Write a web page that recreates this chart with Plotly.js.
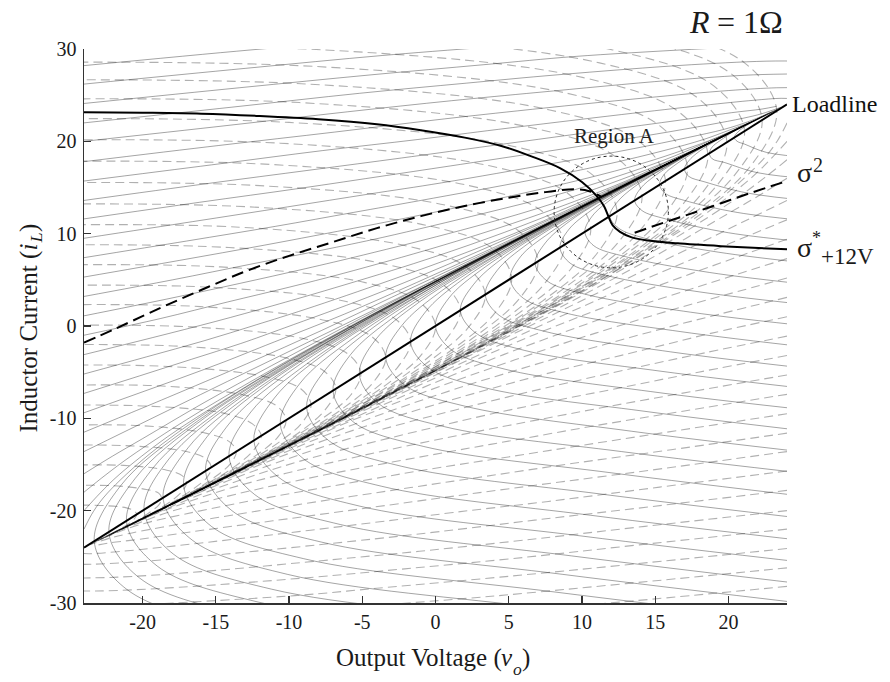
<!DOCTYPE html>
<html>
<head>
<meta charset="utf-8">
<script src="https://cdn.plot.ly/plotly-3.0.1.min.js"></script>
<style>html,body{margin:0;padding:0;background:#fff;}#chart{width:890px;height:682px;}</style>
</head>
<body>
<div id="chart"></div>
<script>
// ---- Data (output voltage v, inductor current i) ----
// Solid grey trajectories entering from the left edge
const solidEdgeV = [
 [-24,-12.6,-2.8],
 [-24,-13,-3.6,4.4],
 [-24,-13.4,-4.4,3.3,9.6,19.1],
 [-24,-13.9,-5.2,2.1,8.3,17.5,23.2,26.4],
 [-24,-14.3,-6,1.1,7,16,21.7,24.9],
 [-24,-14.8,-6.9,-0.1,5.6,14.3,20,23.3,24.9],
 [-24,-15.3,-7.7,-1.2,4.3,12.7,18.3,21.75,23.6,24.4],
 [-24,-15.7,-8.5,-2.3,3,11.1,16.7,20.2,22.3,23.3],
 [-24,-16.1,-9.3,-3.35,1.7,9.6,15.1,18.7,21,22.3,23.6],
 [-24,-16.6,-10.1,-4.5,0.4,8,13.5,17.2,19.7,21.3,22.4,23.3],
 [-24,-17,-10.9,-5.6,-1,6.5,11.8,15.6,18.3,20.2,21.7,22.9],
 [-24,-17.5,-11.7,-6.7,-2.3,4.9,10.2,14.1,17,19.2,21,22.5],
 [-24,-17.95,-12.6,-7.8,-3.6,3.3,8.5,12.5,15.65,18.1,20.2,22.15],
 [-24,-18.4,-13.4,-8.9,-4.9,1.7,6.9,11,14.3,17.1,19.5,21.8],
 [-24,-18.8,-14.2,-10,-6.3,0.1,5.25,9.5,13,16,18.8,21.4],
 [-24,-19.3,-15,-11.1,-7.6,-1.5,3.6,7.9,11.6,15,18.1,21.1],
 [-24,-19.75,-15.8,-12.2,-8.9,-3.1,2,6.4,10.3,13.9,17.4,20.7],
 [-24,-20.2,-16.65,-13.3,-10.3,-4.65,0.3,4.8,9,12.9,16.6,20.3],
 [-24,-20.65,-17.5,-14.45,-11.6,-6.2,-1.3,3.3,7.6,11.8,15.9,20.0],
 [-24,-21.1,-18.3,-12.9,-7.8,-3,1.7,6.3,10.8,15.2,19.6],
 [-24,-14.2,-4.5,5,14.5,21.6],
 [-24,-22.06,-20,-15.8,-11.2,-6.5,-1.6,3.4,8.5,13.7,18.8],
 [-24,-22.5,-20.8,-17,-12.7,-8,-3.05,2.2,7.5,13,18.5],
 [-24,-22.9,-21.6,-18.3,-14.2,-9.6,-4.5,0.9,6.5,12.3,18.1],
 [-24,-23.35,-22.4,-19.55,-15.75,-11.2,-6,-0.4,5.5,11.6,17.8]
];
const solidEdgeI = [
 [28.2,29.9,31.2],
 [26.2,27.9,29.3,30.3],
 [24.1,25.8,27.2,28.3,29.2,30.1],
 [22,23.7,25.2,26.3,27.2,28.3,28.7,28.6],
 [20,21.7,23.2,24.4,25.3,26.6,27.2,27.3],
 [17.8,19.55,21,22.3,23.3,24.7,25.5,25.8,25.8],
 [15.7,17.45,19,20.2,21.3,22.9,23.9,24.45,24.66,24.6],
 [13.6,15.4,16.9,18.2,19.35,21.1,22.3,23.1,23.5,23.8],
 [11.6,13.4,14.9,16.3,17.5,19.4,20.8,21.8,22.5,23,23.7],
 [9.5,11.3,12.9,14.3,15.5,17.6,19.2,20.4,21.3,22.1,22.8,23.4],
 [7.4,9.2,10.8,12.3,13.6,15.8,17.55,19,20.2,21.3,22.2,23.1],
 [5.3,7.1,8.75,10.25,11.6,14,15.95,17.6,19.1,20.4,21.7,22.8],
 [3.2,5,6.7,8.2,9.6,12.2,14.3,16.25,18,19.6,21.1,22.5],
 [1.1,2.9,4.6,6.2,7.7,10.35,12.7,14.9,16.85,18.7,20.5,22.3],
 [-1,0.8,2.6,4.2,5.7,8.55,11.1,13.5,15.7,17.9,19.9,22.0],
 [-3.1,-1.25,0.5,2.2,3.8,6.75,9.5,12.1,14.6,17,19.4,21.7],
 [-5.2,-3.35,-1.6,0.15,1.8,4.95,7.9,10.7,13.5,16.15,18.8,21.4],
 [-7.3,-5.4,-3.6,-1.9,-0.2,3.1,6.3,9.4,12.4,15.3,18.2,21.1],
 [-9.4,-7.5,-5.7,-3.9,-2.1,1.3,4.7,8,11.2,14.5,17.65,20.8],
 [-11.5,-9.6,-7.75,-4.1,-0.5,3.1,6.6,10.1,13.6,17.1,20.5],
 [-13.6,-6,1.5,9,16.5,22.1],
 [-16,-14.1,-12.2,-8.3,-4.3,-0.35,3.7,7.7,11.8,15.8,19.9],
 [-18,-16.1,-14.1,-10.15,-6.1,-1.9,2.35,6.6,10.95,15.3,19.65],
 [-20,-18.1,-16.1,-12,-7.8,-3.4,1.05,5.6,10.1,14.75,19.4],
 [-22,-20.07,-18.1,-13.9,-9.5,-4.95,-0.27,4.5,9.3,14.2,19.1]
];
// Solid grey arcs coming from the bottom / right edge and crossing the loadline
const solidArcV = [
 [26,5.7,-13.9,-21.1,-23.3,-21.5,-16.6,-7.0,4.8,17.5],
 [26,6.1,-13.1,-20.2,-22.3,-20.5,-15.8,-6.3,5.2,17.7],
 [26,6.6,-12.1,-19.0,-21.1,-19.3,-14.7,-5.5,5.7,17.8],
 [26,7.1,-11.2,-17.9,-19.9,-18.2,-13.7,-4.8,6.2,18.0],
 [26,7.6,-10.1,-16.6,-18.6,-16.9,-12.6,-3.9,6.7,18.2],
 [26,8.1,-9.0,-15.3,-17.2,-15.6,-11.4,-3.0,7.3,18.4],
 [26,8.7,-7.8,-13.9,-15.7,-14.15,-10.1,-2.0,7.9,18.6],
 [26,9.3,-6.5,-12.35,-14.1,-12.6,-8.7,-1.0,8.5,18.8],
 [26,10.0,-5.2,-10.7,-12.4,-11.0,-7.3,0.2,9.2,19.0],
 [26,10.6,-3.7,-9.0,-10.6,-9.25,-5.7,1.3,10.0,19.3],
 [26,11.3,-2.3,-7.3,-8.8,-7.5,-4.2,2.5,10.7,19.5],
 [26,12.0,-0.8,-5.6,-7.0,-5.8,-2.6,3.7,11.4,19.75],
 [26,12.7,0.6,-3.9,-5.2,-4.1,-1.1,4.9,12.1,20.0],
 [26,13.4,2.05,-2.1,-3.4,-2.3,0.5,6.05,12.9,20.25],
 [26,14.1,3.4,-0.5,-1.7,-0.7,1.9,7.2,13.6,20.5],
 [26,14.7,4.8,1.1,0,0.9,3.4,8.3,14.3,20.7],
 [26,15.4,6.1,2.7,1.7,2.6,4.8,9.4,15.0,20.9],
 [26,16.05,7.5,4.35,3.4,4.2,6.3,10.5,15.6,21.2],
 [26,16.7,8.9,6.0,5.1,5.8,7.8,11.6,16.3,21.4],
 [26,17.4,10.2,7.6,6.8,7.5,9.2,12.7,17.0,21.6],
 [26,18.0,11.6,9.2,8.5,9.1,10.7,13.85,17.7,21.9],
 [26,18.7,13.0,10.8,10.2,10.7,12.15,15.0,18.4,22.1],
 [26,19.3,14.3,12.5,11.9,12.4,13.6,16.1,19.1,22.3],
 [26,20.0,15.7,14.1,13.6,14.0,15.1,17.2,19.8,22.6],
 [26,20.6,17.0,15.7,15.3,15.6,16.5,18.3,20.5,22.8],
 [26,21.3,18.4,17.3,17.0,17.3,18.0,19.4,21.2,23.0],
 [26,22.0,19.75,18.9,18.7,18.9,19.45,20.5,21.85,23.3],
 [26,22.6,21.1,20.6,20.4,20.55,20.9,21.65,22.5,23.5]
];
const solidArcI = [
 [-40.4,-36.5,-32.5,-28.5,-23.3,-17.3,-10.7,-1.2,8.8,18.9],
 [-39.1,-35.3,-31.3,-27.3,-22.3,-16.5,-10.0,-0.7,9.1,19.0],
 [-37.5,-33.8,-29.9,-26.0,-21.1,-15.4,-9.1,0.0,9.5,19.1],
 [-35.8,-32.2,-28.5,-24.7,-19.9,-14.4,-8.2,0.6,9.9,19.3],
 [-34.1,-30.6,-26.9,-23.2,-18.6,-13.2,-7.3,1.3,10.3,19.4],
 [-32.2,-28.8,-25.2,-21.7,-17.2,-12.0,-6.2,2.0,10.7,19.55],
 [-30.2,-26.9,-23.4,-20.0,-15.7,-10.7,-5.1,2.8,11.2,19.7],
 [-28.1,-24.9,-21.5,-18.25,-14.1,-9.3,-4.0,3.7,11.7,19.9],
 [-25.75,-22.75,-19.5,-16.4,-12.4,-7.8,-2.7,4.6,12.3,20.1],
 [-23.4,-20.5,-17.35,-14.4,-10.6,-6.2,-1.4,5.6,12.9,20.3],
 [-21.0,-18.2,-15.2,-12.4,-8.8,-4.7,-0.1,6.5,13.4,20.5],
 [-18.6,-15.9,-13.05,-10.4,-7.0,-3.1,1.25,7.5,14.0,20.65],
 [-16.1,-13.6,-10.9,-8.4,-5.2,-1.5,2.6,8.4,14.6,20.85],
 [-13.8,-11.4,-8.7,-6.4,-3.4,0.05,3.9,9.4,15.2,21.0],
 [-11.5,-9.2,-6.7,-4.5,-1.7,1.5,5.1,10.3,15.7,21.2],
 [-9.2,-7.1,-4.7,-2.6,0,3.0,6.4,11.2,16.3,21.4],
 [-6.9,-4.9,-2.65,-0.7,1.7,4.5,7.6,12.1,16.8,21.6],
 [-4.7,-2.8,-0.6,1.15,3.4,6.0,8.9,13.0,17.4,21.8],
 [-2.4,-0.6,1.4,3.0,5.1,7.5,10.1,13.9,17.9,22.0],
 [-0.1,1.5,3.45,4.9,6.8,9.0,11.4,14.8,18.5,22.1],
 [2.2,3.7,5.5,6.8,8.5,10.45,12.6,15.7,19.0,22.3],
 [4.4,5.8,7.5,8.7,10.2,11.9,13.9,16.6,19.6,22.5],
 [6.7,8.0,9.5,10.6,11.9,13.4,15.1,17.55,20.1,22.7],
 [9.0,10.1,11.6,12.5,13.6,14.9,16.4,18.5,20.65,22.9],
 [11.3,12.3,13.6,14.35,15.3,16.4,17.6,19.4,21.2,23.1],
 [13.5,14.4,15.6,16.2,17.0,17.9,18.9,20.3,21.75,23.2],
 [15.9,16.6,17.7,18.1,18.7,19.4,20.1,21.2,22.3,23.4],
 [18.2,18.8,19.7,20.0,20.4,20.85,21.35,22.1,22.8,23.6]
];
// Dashed grey trajectories entering from the right edge
const dashedEdgeV = [
 [24,12.6,2.8],
 [24,13,3.6,-4.4],
 [24,13.4,4.4,-3.3,-9.6,-19.1],
 [24,13.9,5.2,-2.1,-8.3,-17.5,-23.2,-26.4],
 [24,14.3,6,-1.1,-7,-16,-21.7,-24.9],
 [24,14.8,6.9,0.1,-5.6,-14.3,-20,-23.3,-24.9],
 [24,15.3,7.7,1.2,-4.3,-12.7,-18.3,-21.75,-23.6,-24.4],
 [24,15.7,8.5,2.3,-3,-11.1,-16.7,-20.2,-22.3,-23.3],
 [24,16.1,9.3,3.35,-1.7,-9.6,-15.1,-18.7,-21,-22.3,-23.6],
 [24,16.6,10.1,4.5,-0.4,-8,-13.5,-17.2,-19.7,-21.3,-22.4,-23.3],
 [24,17,10.9,5.6,1,-6.5,-11.8,-15.6,-18.3,-20.2,-21.7,-22.9],
 [24,17.5,11.7,6.7,2.3,-4.9,-10.2,-14.1,-17,-19.2,-21,-22.5],
 [24,17.95,12.6,7.8,3.6,-3.3,-8.5,-12.5,-15.65,-18.1,-20.2,-22.15],
 [24,18.4,13.4,8.9,4.9,-1.7,-6.9,-11,-14.3,-17.1,-19.5,-21.8],
 [24,18.8,14.2,10,6.3,-0.1,-5.25,-9.5,-13,-16,-18.8,-21.4],
 [24,19.3,15,11.1,7.6,1.5,-3.6,-7.9,-11.6,-15,-18.1,-21.1],
 [24,19.75,15.8,12.2,8.9,3.1,-2,-6.4,-10.3,-13.9,-17.4,-20.7],
 [24,20.2,16.65,13.3,10.3,4.65,-0.3,-4.8,-9,-12.9,-16.6,-20.3],
 [24,20.65,17.5,14.45,11.6,6.2,1.3,-3.3,-7.6,-11.8,-15.9,-20.0],
 [24,21.1,18.3,12.9,7.8,3,-1.7,-6.3,-10.8,-15.2,-19.6],
 [24,14.2,4.5,-5,-14.5,-21.6],
 [24,22.06,20,15.8,11.2,6.5,1.6,-3.4,-8.5,-13.7,-18.8],
 [24,22.5,20.8,17,12.7,8,3.05,-2.2,-7.5,-13,-18.5],
 [24,22.9,21.6,18.3,14.2,9.6,4.5,-0.9,-6.5,-12.3,-18.1],
 [24,23.35,22.4,19.55,15.75,11.2,6,0.4,-5.5,-11.6,-17.8]
];
const dashedEdgeI = [
 [-28.2,-29.9,-31.2],
 [-26.2,-27.9,-29.3,-30.3],
 [-24.1,-25.8,-27.2,-28.3,-29.2,-30.1],
 [-22,-23.7,-25.2,-26.3,-27.2,-28.3,-28.7,-28.6],
 [-20,-21.7,-23.2,-24.4,-25.3,-26.6,-27.2,-27.3],
 [-17.8,-19.55,-21,-22.3,-23.3,-24.7,-25.5,-25.8,-25.8],
 [-15.7,-17.45,-19,-20.2,-21.3,-22.9,-23.9,-24.45,-24.66,-24.6],
 [-13.6,-15.4,-16.9,-18.2,-19.35,-21.1,-22.3,-23.1,-23.5,-23.8],
 [-11.6,-13.4,-14.9,-16.3,-17.5,-19.4,-20.8,-21.8,-22.5,-23,-23.7],
 [-9.5,-11.3,-12.9,-14.3,-15.5,-17.6,-19.2,-20.4,-21.3,-22.1,-22.8,-23.4],
 [-7.4,-9.2,-10.8,-12.3,-13.6,-15.8,-17.55,-19,-20.2,-21.3,-22.2,-23.1],
 [-5.3,-7.1,-8.75,-10.25,-11.6,-14,-15.95,-17.6,-19.1,-20.4,-21.7,-22.8],
 [-3.2,-5,-6.7,-8.2,-9.6,-12.2,-14.3,-16.25,-18,-19.6,-21.1,-22.5],
 [-1.1,-2.9,-4.6,-6.2,-7.7,-10.35,-12.7,-14.9,-16.85,-18.7,-20.5,-22.3],
 [1,-0.8,-2.6,-4.2,-5.7,-8.55,-11.1,-13.5,-15.7,-17.9,-19.9,-22.0],
 [3.1,1.25,-0.5,-2.2,-3.8,-6.75,-9.5,-12.1,-14.6,-17,-19.4,-21.7],
 [5.2,3.35,1.6,-0.15,-1.8,-4.95,-7.9,-10.7,-13.5,-16.15,-18.8,-21.4],
 [7.3,5.4,3.6,1.9,0.2,-3.1,-6.3,-9.4,-12.4,-15.3,-18.2,-21.1],
 [9.4,7.5,5.7,3.9,2.1,-1.3,-4.7,-8,-11.2,-14.5,-17.65,-20.8],
 [11.5,9.6,7.75,4.1,0.5,-3.1,-6.6,-10.1,-13.6,-17.1,-20.5],
 [13.6,6,-1.5,-9,-16.5,-22.1],
 [16,14.1,12.2,8.3,4.3,0.35,-3.7,-7.7,-11.8,-15.8,-19.9],
 [18,16.1,14.1,10.15,6.1,1.9,-2.35,-6.6,-10.95,-15.3,-19.65],
 [20,18.1,16.1,12,7.8,3.4,-1.05,-5.6,-10.1,-14.75,-19.4],
 [22,20.07,18.1,13.9,9.5,4.95,0.27,-4.5,-9.3,-14.2,-19.1]
];
// Dashed grey arcs coming from the top / left edge and crossing the loadline
const dashedArcV = [
 [-39.7,-5.7,13.9,21.1,23.3,21.5,16.6,7.0,-4.8,-17.5],
 [-39.4,-6.1,13.1,20.2,22.3,20.5,15.8,6.3,-5.2,-17.7],
 [-39.0,-6.6,12.1,19.0,21.1,19.3,14.7,5.5,-5.7,-17.8],
 [-38.6,-7.1,11.2,17.9,19.9,18.2,13.7,4.8,-6.2,-18.0],
 [-38.1,-7.6,10.1,16.6,18.6,16.9,12.6,3.9,-6.7,-18.2],
 [-37.7,-8.1,9.0,15.3,17.2,15.6,11.4,3.0,-7.3,-18.4],
 [-37.2,-8.7,7.8,13.9,15.7,14.15,10.1,2.0,-7.9,-18.6],
 [-36.6,-9.3,6.5,12.35,14.1,12.6,8.7,1.0,-8.5,-18.8],
 [-36.1,-10.0,5.2,10.7,12.4,11.0,7.3,-0.2,-9.2,-19.0],
 [-35.5,-10.6,3.7,9.0,10.6,9.25,5.7,-1.3,-10.0,-19.3],
 [-34.9,-11.3,2.3,7.3,8.8,7.5,4.2,-2.5,-10.7,-19.5],
 [-34.3,-12.0,0.8,5.6,7.0,5.8,2.6,-3.7,-11.4,-19.75],
 [-33.7,-12.7,-0.6,3.9,5.2,4.1,1.1,-4.9,-12.1,-20.0],
 [-33.1,-13.4,-2.05,2.1,3.4,2.3,-0.5,-6.05,-12.9,-20.25],
 [-32.5,-14.1,-3.4,0.5,1.7,0.7,-1.9,-7.2,-13.6,-20.5],
 [-32.0,-14.7,-4.8,-1.1,0,-0.9,-3.4,-8.3,-14.3,-20.7],
 [-31.4,-15.4,-6.1,-2.7,-1.7,-2.6,-4.8,-9.4,-15.0,-20.9],
 [-30.8,-16.05,-7.5,-4.35,-3.4,-4.2,-6.3,-10.5,-15.6,-21.2],
 [-30.3,-16.7,-8.9,-6.0,-5.1,-5.8,-7.8,-11.6,-16.3,-21.4],
 [-29.7,-17.4,-10.2,-7.6,-6.8,-7.5,-9.2,-12.7,-17.0,-21.6],
 [-29.1,-18.0,-11.6,-9.2,-8.5,-9.1,-10.7,-13.85,-17.7,-21.9],
 [-28.6,-18.7,-13.0,-10.8,-10.2,-10.7,-12.15,-15.0,-18.4,-22.1],
 [-28.0,-19.3,-14.3,-12.5,-11.9,-12.4,-13.6,-16.1,-19.1,-22.3],
 [-27.5,-20.0,-15.7,-14.1,-13.6,-14.0,-15.1,-17.2,-19.8,-22.6],
 [-26.9,-20.6,-17.0,-15.7,-15.3,-15.6,-16.5,-18.3,-20.5,-22.8],
 [-26.3,-21.3,-18.4,-17.3,-17.0,-17.3,-18.0,-19.4,-21.2,-23.0],
 [-25.8,-22.0,-19.75,-18.9,-18.7,-18.9,-19.45,-20.5,-21.85,-23.3],
 [-25.2,-22.6,-21.1,-20.6,-20.4,-20.55,-20.9,-21.65,-22.5,-23.5]
];
const dashedArcI = [
 [36.1,35.8,32.5,28.5,23.3,17.3,10.7,1.2,-8.8,-18.9],
 [34.8,34.6,31.3,27.3,22.3,16.5,10.0,0.7,-9.1,-19.0],
 [33.3,33.1,29.9,26.0,21.1,15.4,9.1,0.0,-9.5,-19.1],
 [31.8,31.5,28.5,24.7,19.9,14.4,8.2,-0.6,-9.9,-19.3],
 [30.1,29.9,26.9,23.2,18.6,13.2,7.3,-1.3,-10.3,-19.4],
 [28.4,28.1,25.2,21.7,17.2,12.0,6.2,-2.0,-10.7,-19.55],
 [26.5,26.2,23.4,20.0,15.7,10.7,5.1,-2.8,-11.2,-19.7],
 [24.4,24.2,21.5,18.25,14.1,9.3,4.0,-3.7,-11.7,-19.9],
 [22.3,22.05,19.5,16.4,12.4,7.8,2.7,-4.6,-12.3,-20.1],
 [20.0,19.8,17.35,14.4,10.6,6.2,1.4,-5.6,-12.9,-20.3],
 [17.7,17.5,15.2,12.4,8.8,4.7,0.1,-6.5,-13.4,-20.5],
 [15.4,15.2,13.05,10.4,7.0,3.1,-1.25,-7.5,-14.0,-20.65],
 [13.1,12.9,10.9,8.4,5.2,1.5,-2.6,-8.4,-14.6,-20.85],
 [10.8,10.7,8.7,6.4,3.4,-0.05,-3.9,-9.4,-15.2,-21.0],
 [8.7,8.5,6.7,4.5,1.7,-1.5,-5.1,-10.3,-15.7,-21.2],
 [6.5,6.4,4.7,2.6,0,-3.0,-6.4,-11.2,-16.3,-21.4],
 [4.3,4.2,2.65,0.7,-1.7,-4.5,-7.6,-12.1,-16.8,-21.6],
 [2.2,2.1,0.6,-1.15,-3.4,-6.0,-8.9,-13.0,-17.4,-21.8],
 [0.0,-0.1,-1.4,-3.0,-5.1,-7.5,-10.1,-13.9,-17.9,-22.0],
 [-2.1,-2.2,-3.45,-4.9,-6.8,-9.0,-11.4,-14.8,-18.5,-22.1],
 [-4.3,-4.4,-5.5,-6.8,-8.5,-10.45,-12.6,-15.7,-19.0,-22.3],
 [-6.5,-6.5,-7.5,-8.7,-10.2,-11.9,-13.9,-16.6,-19.6,-22.5],
 [-8.6,-8.7,-9.5,-10.6,-11.9,-13.4,-15.1,-17.55,-20.1,-22.7],
 [-10.8,-10.8,-11.6,-12.5,-13.6,-14.9,-16.4,-18.5,-20.65,-22.9],
 [-12.9,-13.0,-13.6,-14.35,-15.3,-16.4,-17.6,-19.4,-21.2,-23.1],
 [-15.1,-15.1,-15.6,-16.2,-17.0,-17.9,-18.9,-20.3,-21.75,-23.2],
 [-17.3,-17.3,-17.7,-18.1,-18.7,-19.4,-20.1,-21.2,-22.3,-23.4],
 [-19.4,-19.45,-19.7,-20.0,-20.4,-20.85,-21.35,-22.1,-22.8,-23.6]
];
// Black curves
const loadlineV = [-24, 24];
const loadlineI = [-24, 24];
const sigmaStarV = [-24,-20,-16,-12,-8,-4,-1,2,4.5,6.5,8.5,10,11,11.5,11.8,12.1,12.6,13.4,14.5,16.5,19.5,24];
const sigmaStarI = [23.15,23.1,23.0,22.75,22.4,21.85,21.2,20.4,19.5,18.4,17.1,15.6,14.1,13.0,11.9,10.9,10.2,9.6,9.25,8.95,8.65,8.3];
const sigma2LeftV = [-24,-22,-19,-16,-13,-10,-7,-4,-1,2,5,7.5,9.5,10.5,11.3];
const sigma2LeftI = [-1.8,-0.4,1.8,3.9,5.9,7.6,9.1,10.6,11.9,13.0,13.9,14.5,14.8,14.6,14.0];
const sigma2RightV = [13.6,15.6,17.5,19.5,21.5,24];
const sigma2RightI = [10.1,11.2,12.2,13.3,14.4,15.7];
// Axis ticks
const xTickVals = [-20,-15,-10,-5,0,5,10,15,20];
const xTickText = ['-20','-15','-10','-5','0','5','10','15','20'];
const yTickVals = [-30,-20,-10,0,10,20,30];
const yTickText = ['-30','-20','-10','0','10','20','30'];

// ---- Build traces ----
function joinCurves(vs, is) {
  const x = [], y = [];
  vs.forEach((v, k) => { x.push(...v, null); y.push(...is[k], null); });
  return {x, y};
}
const FONT = 'Liberation Serif, Times New Roman, serif';
const sE = joinCurves(solidEdgeV, solidEdgeI);
const sA = joinCurves(solidArcV, solidArcI);
const dE = joinCurves(dashedEdgeV, dashedEdgeI);
const dA = joinCurves(dashedArcV, dashedArcI);
// translucent strokes so that converging trajectories darken where they bunch up
const greySolid = {color: 'rgba(0,0,0,0.4)', width: 0.9, shape: 'spline'};
const greyDash = {color: 'rgba(0,0,0,0.31)', width: 1.1, shape: 'spline', dash: '9px,5px'};
const traces = [
  {x: dE.x, y: dE.y, mode: 'lines', line: greyDash, hoverinfo: 'skip'},
  {x: dA.x, y: dA.y, mode: 'lines', line: greyDash, hoverinfo: 'skip'},
  {x: sE.x, y: sE.y, mode: 'lines', line: greySolid, hoverinfo: 'skip'},
  {x: sA.x, y: sA.y, mode: 'lines', line: greySolid, hoverinfo: 'skip'},
  {x: loadlineV, y: loadlineI, mode: 'lines', line: {color: '#000', width: 2}},
  {x: sigmaStarV, y: sigmaStarI, mode: 'lines', line: {color: '#000', width: 2, shape: 'spline'}},
  {x: sigma2LeftV, y: sigma2LeftI, mode: 'lines', line: {color: '#000', width: 2, dash: '12px,6px', shape: 'spline'}},
  {x: sigma2RightV, y: sigma2RightI, mode: 'lines', line: {color: '#000', width: 2, dash: '12px,6px', shape: 'spline'}}
];

// text pieces placed in page pixels (converted to paper coordinates)
const PL = 84, PT = 49, PW = 703, PH = 554;
function label(text, px, py, size, opts) {
  const o = opts || {};
  return Object.assign({
    x: (px - PL) / PW, y: 1 - (py - PT) / PH, xref: 'paper', yref: 'paper',
    text: text, showarrow: false, xanchor: 'left', yanchor: 'middle', borderpad: 0, borderwidth: 0,
    font: {family: FONT, size: size, color: '#1a1a1a', style: o.italic ? 'italic' : 'normal'}
  }, o.extra || {});
}
const rot = () => ({textangle: -90, xanchor: 'center', yanchor: 'bottom'});

const annotations = [
  // x axis title: Output Voltage (v_o)
  label('Output Voltage (', 336, 657.6, 25),
  label('v', 501, 657.6, 25, {italic: true}),
  label('o', 512.5, 669, 17.5, {italic: true}),
  label(')', 522, 657.6, 25),
  // y axis title: Inductor Current (i_L), reading upward
  label('Inductor Current (', 28.5, 433, 25, {extra: rot()}),
  label('i', 28.5, 250.6, 25, {italic: true, extra: rot()}),
  label('L', 35.5, 243.2, 17.5, {italic: true, extra: rot()}),
  label(')', 28.5, 232.6, 25, {extra: rot()}),
  // right-hand labels
  {x: 24, y: 24, xref: 'x', yref: 'y', text: 'Loadline', showarrow: false, xanchor: 'left', yanchor: 'middle', xshift: 5,
   borderpad: 0, borderwidth: 0, font: {family: FONT, size: 24, color: '#111'}},
  label('σ', 797, 172.6, 28),
  label('2', 813, 165.3, 20),
  label('σ', 797, 247.6, 28),
  label('*', 811.5, 238, 18),
  label('+12V', 820.5, 256, 23),
  {x: 12.2, y: 20.6, xref: 'x', yref: 'y', text: 'Region A', showarrow: false, xanchor: 'center', yanchor: 'middle',
   borderpad: 0, borderwidth: 0, font: {family: FONT, size: 21, color: '#222'}},
  // R = 1Ω
  label('R', 689, 22, 32, {italic: true}),
  label('= 1Ω', 716.6, 22, 32)
];

const layout = {
  width: 890, height: 682,
  margin: {l: 84, r: 103, t: 49, b: 79},
  paper_bgcolor: '#fff', plot_bgcolor: '#fff',
  showlegend: false,
  font: {family: FONT, color: '#111', size: 20},
  xaxis: {
    range: [-24, 24], tickvals: xTickVals, ticktext: xTickText, ticks: 'inside', ticklen: 7, tickwidth: 1.3, tickcolor: '#333',
    showline: true, linecolor: '#333', linewidth: 1.5, showgrid: false, zeroline: false,
    tickfont: {family: FONT, size: 20, color: '#1a1a1a'}, ticklabelstandoff: 0
  },
  yaxis: {
    range: [-30, 30], tickvals: yTickVals, ticktext: yTickText, ticks: 'inside', ticklen: 7, tickwidth: 1.3, tickcolor: '#333',
    showline: true, linecolor: '#333', linewidth: 1.5, showgrid: false, zeroline: false,
    tickfont: {family: FONT, size: 20, color: '#1a1a1a'}, ticklabelstandoff: 2
  },
  shapes: [
    {type: 'circle', xref: 'x', yref: 'y', x0: 8.1, x1: 15.9, y0: 6.3, y1: 18.4,
     line: {color: '#222', width: 1, dash: 'dot'}}
  ],
  annotations: annotations
};

Plotly.newPlot('chart', traces, layout, {staticPlot: true, displayModeBar: false});
</script>
</body>
</html>
